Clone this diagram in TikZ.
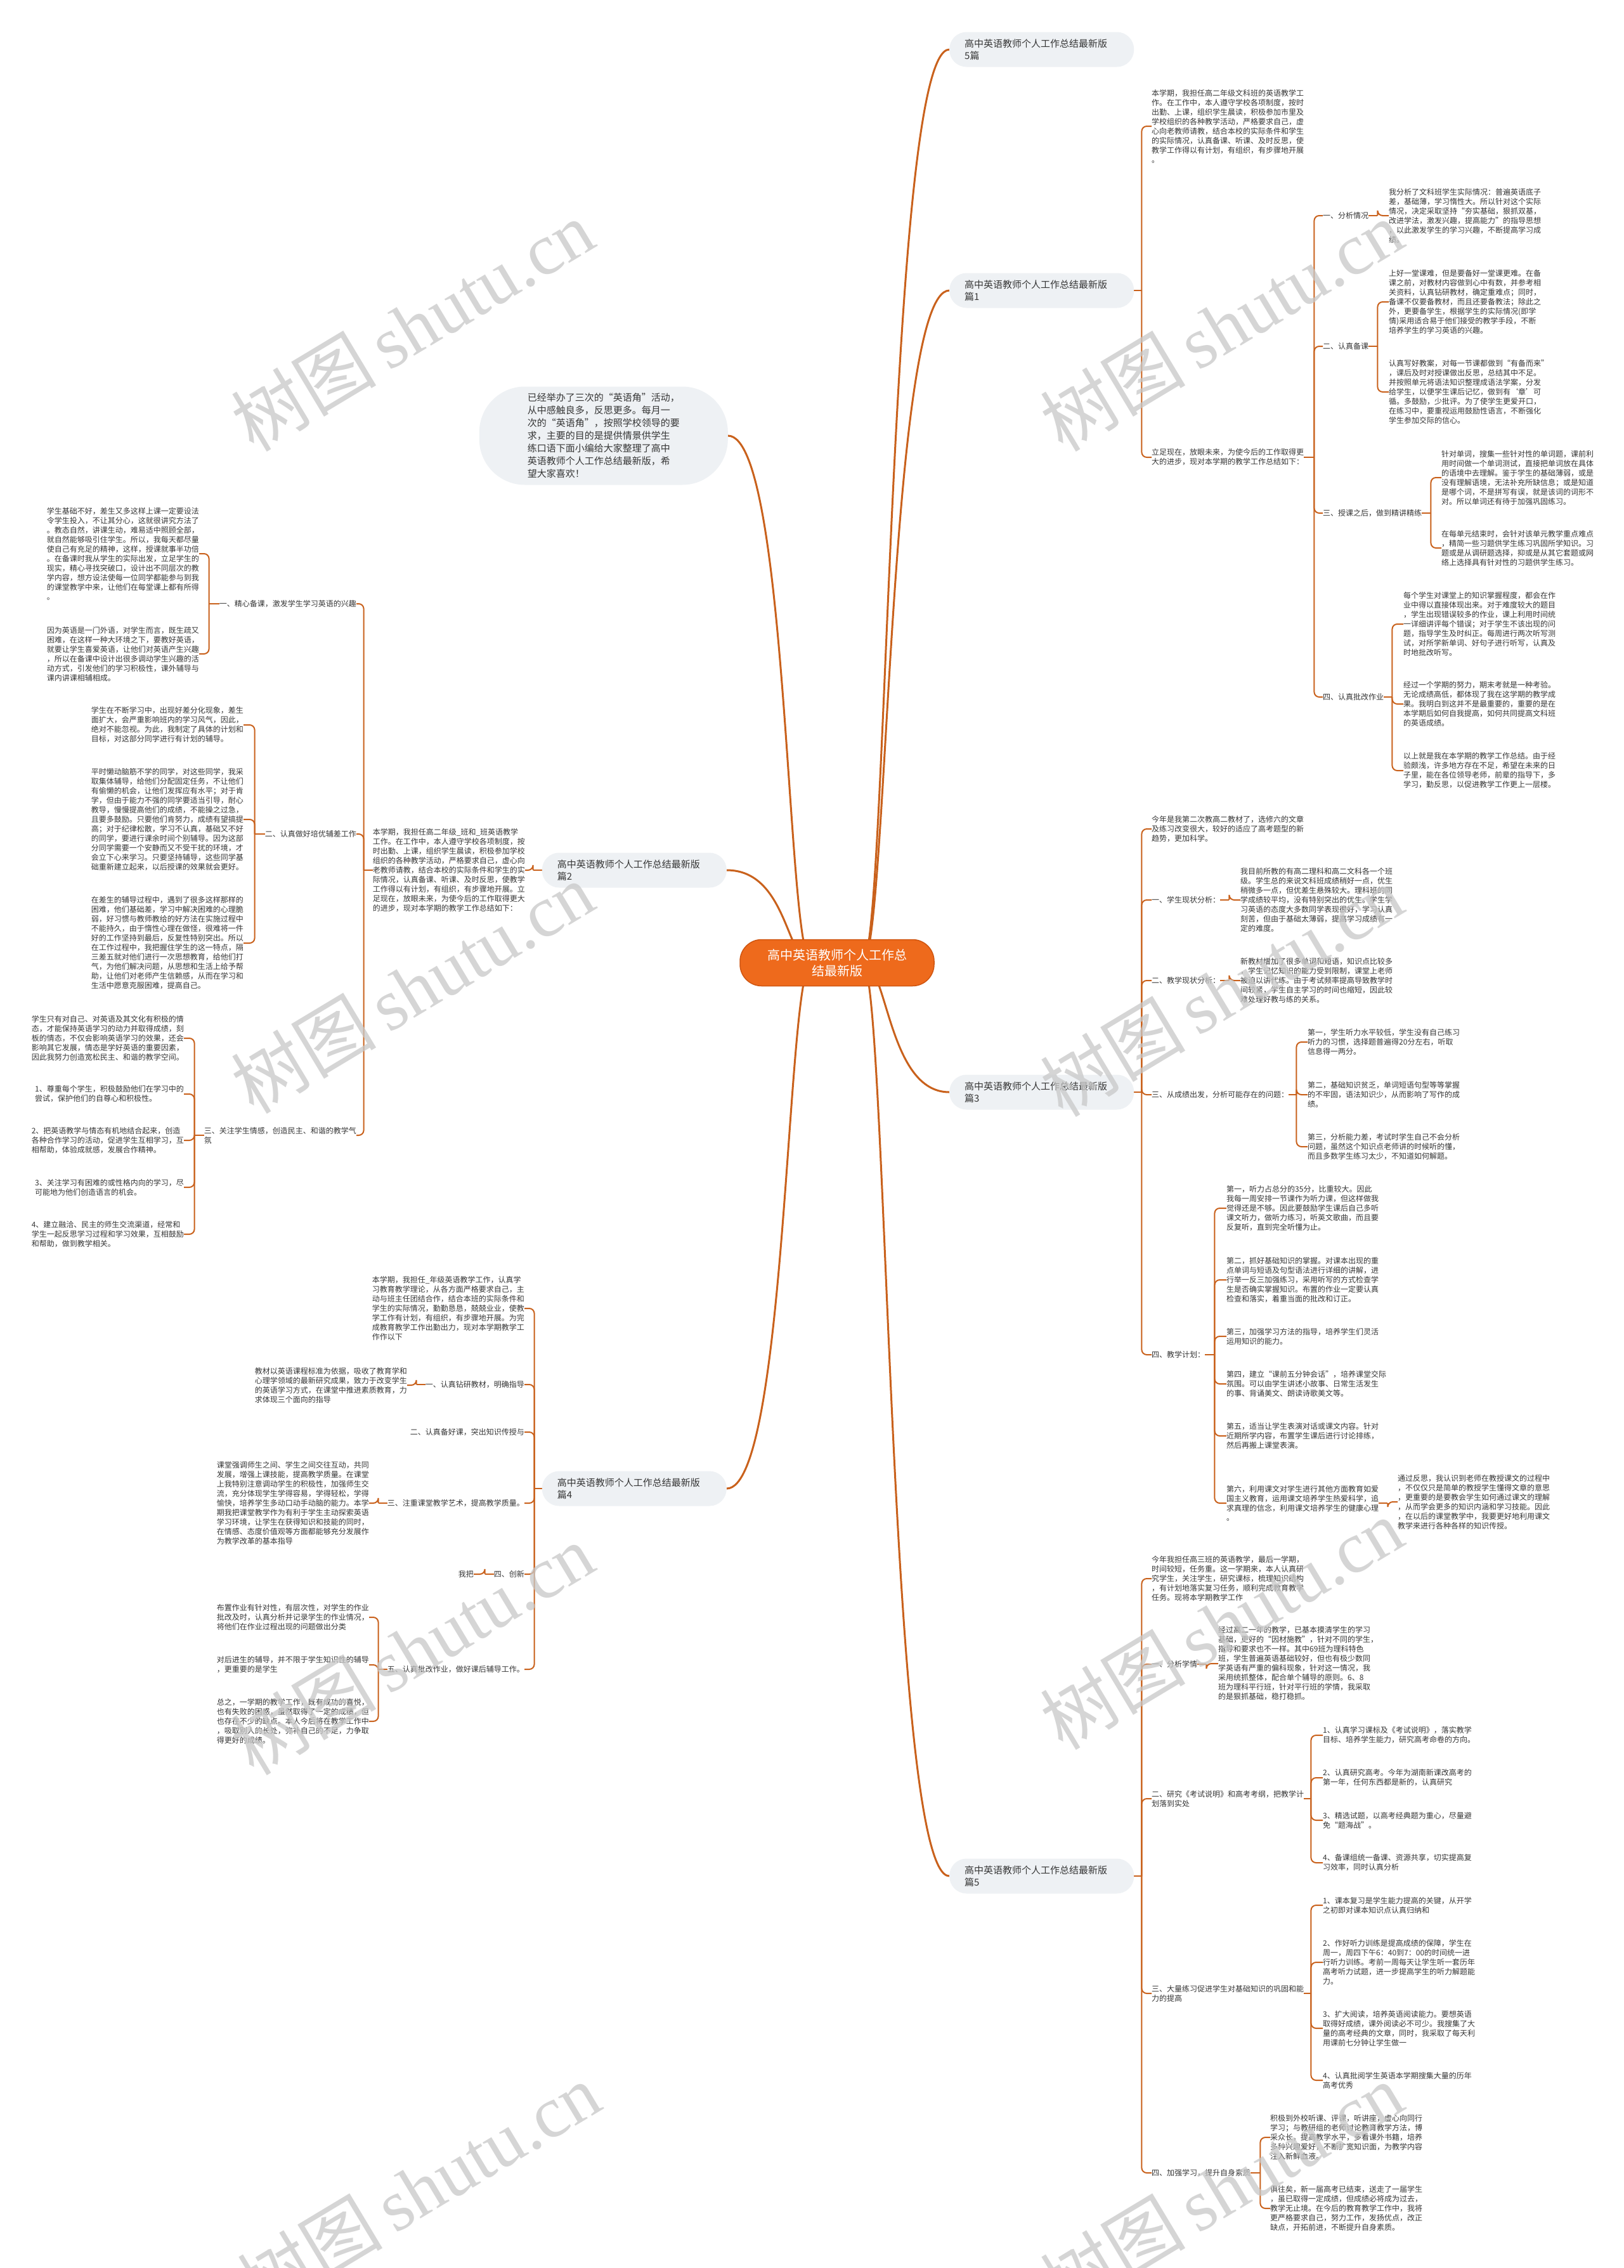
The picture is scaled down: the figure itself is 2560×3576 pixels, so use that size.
\documentclass[tikz,border=0pt]{standalone}
\usepackage{fontspec}
\setmainfont{Noto Sans CJK SC}
\newfontfamily\wmfont{Liberation Serif}
\usetikzlibrary{backgrounds}
\definecolor{linkbrown}{HTML}{C9611C}
\definecolor{rootorange}{HTML}{EE6A1C}
\definecolor{rootedge}{HTML}{CF5510}
\definecolor{boxgray}{HTML}{EEF1F4}
\definecolor{inkgray}{HTML}{363636}
\definecolor{wmgray}{HTML}{C8C8C8}

\begin{document}
\begin{tikzpicture}[
    x=1pt, y=-1pt,
    root/.style={draw=rootedge, fill=rootorange, line width=1.5pt, rounded corners=34pt,
                 minimum width=306pt, minimum height=73pt, align=center, text=white,
                 font=\fontsize{20}{25}\selectfont},
    branch/.style={fill=boxgray, rounded corners=27pt, minimum height=55pt,
                   text width=243pt, inner xsep=24pt, align=left, text=inkgray,
                   font=\fontsize{15}{19}\selectfont},
    note/.style={fill=boxgray, rounded corners=72pt, minimum height=155pt,
                 text width=240pt, inner xsep=76pt, align=left, text=inkgray,
                 font=\fontsize{15}{20}\selectfont},
    txt/.style={inner sep=0pt, align=left, text=inkgray, font=\fontsize{12}{15}\selectfont},
    rleaf/.style={txt, anchor=west},
    lleaf/.style={txt, anchor=east},
    twig/.style={draw=linkbrown, line width=2pt, rounded corners=8pt},
    trunk/.style={draw=linkbrown, line width=3pt},
    wm/.style={text=wmgray, text opacity=0.75, rotate=31, font=\fontsize{115}{120}\selectfont}
  ]
    \useasboundingbox (0,0) rectangle (2560,3576);

    % centre
    \node[root] (root) at (1320,1518) {高中英语教师个人工作总\\结最新版};

    % ---- right side ----
    \node[branch, anchor=west] (intro) at (1497,78) {高中英语教师个人工作总结最新版\\5篇};

    \node[branch, anchor=west] (p1) at (1497,458) {高中英语教师个人工作总结最新版\\篇1};
    \node[rleaf] (p1a) at (1816,199) {本学期，我担任高二年级文科班的英语教学工\\作。在工作中，本人遵守学校各项制度，按时\\出勤、上课，组织学生晨读，积极参加市里及\\学校组织的各种教学活动，严格要求自己，虚\\心向老教师请教，结合本校的实际条件和学生\\的实际情况，认真备课、听课、及时反思，使\\教学工作得以有计划，有组织，有步骤地开展\\。};
    \node[rleaf] (p1s) at (1816,721) {立足现在，放眼未来，为使今后的工作取得更\\大的进步，现对本学期的教学工作总结如下：};
    \node[rleaf] (k1) at (2086,340) {一、分析情况};
    \node[rleaf] (k1a) at (2190,340) {我分析了文科班学生实际情况：普遍英语底子\\差，基础薄，学习惰性大。所以针对这个实际\\情况，决定采取坚持“夯实基础，狠抓双基，\\改进学法，激发兴趣，提高能力”的指导思想\\，以此激发学生的学习兴趣，不断提高学习成\\绩。};
    \node[rleaf] (k2) at (2086,546) {二、认真备课};
    \node[rleaf] (k2a) at (2190,476) {上好一堂课难，但是要备好一堂课更难。在备\\课之前，对教材内容做到心中有数，并参考相\\关资料，认真钻研教材，确定重难点；同时，\\备课不仅要备教材，而且还要备教法；除此之\\外，更要备学生，根据学生的实际情况(即学\\情)采用适合易于他们接受的教学手段，不断\\培养学生的学习英语的兴趣。};
    \node[rleaf] (k2b) at (2190,618) {认真写好教案，对每一节课都做到“有备而来”\\，课后及时对授课做出反思，总结其中不足。\\并按照单元将语法知识整理成语法学案，分发\\给学生，以便学生课后记忆，做到有‘章’可\\循。多鼓励，少批评。为了使学生更爱开口，\\在练习中，要重视运用鼓励性语言，不断强化\\学生参加交际的信心。};
    \node[rleaf] (k3) at (2086,809) {三、授课之后，做到精讲精练};
    \node[rleaf] (k3a) at (2273,753) {针对单词，搜集一些针对性的单词题，课前利\\用时间做一个单词测试，直接把单词放在具体\\的语境中去理解。鉴于学生的基础薄弱，或是\\没有理解语境，无法补充所缺信息；或是知道\\是哪个词，不是拼写有误，就是该词的词形不\\对。所以单词还有待于加强巩固练习。};
    \node[rleaf] (k3b) at (2273,864) {在每单元结束时，会针对该单元教学重点难点\\，精简一些习题供学生练习巩固所学知识。习\\题或是从调研题选择，抑或是从其它套题或网\\络上选择具有针对性的习题供学生练习。};
    \node[rleaf] (k4) at (2086,1099) {四、认真批改作业};
    \node[rleaf] (k4a) at (2213,984) {每个学生对课堂上的知识掌握程度，都会在作\\业中得以直接体现出来。对于难度较大的题目\\，学生出现错误较多的作业，课上利用时间统\\一详细讲评每个错误；对于学生不该出现的问\\题，指导学生及时纠正。每周进行两次听写测\\试，对所学新单词、好句子进行听写，认真及\\时地批改听写。};
    \node[rleaf] (k4b) at (2213,1110) {经过一个学期的努力，期末考就是一种考验。\\无论成绩高低，都体现了我在这学期的教学成\\果。我明白到这并不是最重要的，重要的是在\\本学期后如何自我提高，如何共同提高文科班\\的英语成绩。};
    \node[rleaf] (k4c) at (2213,1215) {以上就是我在本学期的教学工作总结。由于经\\验颇浅，许多地方存在不足，希望在未来的日\\子里，能在各位领导老师，前辈的指导下，多\\学习，勤反思，以促进教学工作更上一层楼。};

    \node[branch, anchor=west] (p3) at (1497,1722) {高中英语教师个人工作总结最新版\\篇3};
    \node[rleaf] (p3a) at (1816,1307) {今年是我第二次教高二教材了，选修六的文章\\及练习改变很大，较好的适应了高考题型的新\\趋势，更加科学。};
    \node[rleaf] (m1) at (1816,1419) {一、学生现状分析：};
    \node[rleaf] (m1a) at (1956,1419) {我目前所教的有高二理科和高二文科各一个班\\级。学生总的来说文科班成绩稍好一点，优生\\稍微多一点，但优差生悬殊较大。理科班的同\\学成绩较平均，没有特别突出的优生。学生学\\习英语的态度大多数同学表现很好，学习认真\\刻苦，但由于基础太薄弱，提高学习成绩有一\\定的难度。};
    \node[rleaf] (m2) at (1816,1546) {二、教学现状分析：};
    \node[rleaf] (m2a) at (1956,1546) {新教材增加了很多单词和短语，知识点比较多\\，学生记忆知识的能力受到限制，课堂上老师\\被迫以讲代练。由于考试频率提高导致教学时\\间较紧，学生自主学习的时间也缩短，因此较\\难处理好教与练的关系。};
    \node[rleaf] (m3) at (1816,1726) {三、从成绩出发，分析可能存在的问题：};
    \node[rleaf] (m3a) at (2062,1643) {第一，学生听力水平较低，学生没有自己练习\\听力的习惯，选择题普遍得20分左右，听取\\信息得一两分。};
    \node[rleaf] (m3b) at (2062,1726) {第二，基础知识贫乏，单词短语句型等等掌握\\的不牢固，语法知识少，从而影响了写作的成\\绩。};
    \node[rleaf] (m3c) at (2062,1808) {第三，分析能力差，考试时学生自己不会分析\\问题，虽然这个知识点老师讲的时候听的懂，\\而且多数学生练习太少，不知道如何解题。};
    \node[rleaf] (m4) at (1816,2136) {四、教学计划：};
    \node[rleaf] (m4a) at (1934,1905) {第一，听力占总分的35分，比重较大。因此\\我每一周安排一节课作为听力课，但这样做我\\觉得还是不够。因此要鼓励学生课后自己多听\\课文听力，做听力练习，听英文歌曲，而且要\\反复听，直到完全听懂为止。};
    \node[rleaf] (m4b) at (1934,2018) {第二，抓好基础知识的掌握。对课本出现的重\\点单词与短语及句型语法进行详细的讲解，进\\行举一反三加强练习，采用听写的方式检查学\\生是否确实掌握知识。布置的作业一定要认真\\检查和落实，着重当面的批改和订正。};
    \node[rleaf] (m4c) at (1934,2107) {第三，加强学习方法的指导，培养学生们灵活\\运用知识的能力。};
    \node[rleaf] (m4d) at (1934,2182) {第四，建立“课前五分钟会话”，培养课堂交际\\氛围。可以由学生讲述小故事、日常生活发生\\的事、背诵美文、朗读诗歌美文等。};
    \node[rleaf] (m4e) at (1934,2264) {第五，适当让学生表演对话或课文内容。针对\\近期所学内容，布置学生课后进行讨论排练，\\然后再搬上课堂表演。};
    \node[rleaf] (m4f) at (1934,2370) {第六，利用课文对学生进行其他方面教育如爱\\国主义教育，运用课文培养学生热爱科学，追\\求真理的信念，利用课文培养学生的健康心理\\。};
    \node[rleaf] (m4g) at (2204,2368) {通过反思，我认识到老师在教授课文的过程中\\，不仅仅只是简单的教授学生懂得文章的意思\\，更重要的是要教会学生如何通过课文的理解\\，从而学会更多的知识内涵和学习技能。因此\\，在以后的课堂教学中，我要更好地利用课文\\教学来进行各种各样的知识传授。};

    \node[branch, anchor=west] (p5) at (1497,2958) {高中英语教师个人工作总结最新版\\篇5};
    \node[rleaf] (p5a) at (1816,2489) {今年我担任高三班的英语教学，最后一学期，\\时间较短，任务重。这一学期来，本人认真研\\究学生，关注学生，研究课标，梳理知识结构\\，有计划地落实复习任务，顺利完成教育教学\\任务。现将本学期教学工作};
    \node[rleaf] (n1) at (1816,2624) {一、分析学情};
    \node[rleaf] (n1a) at (1921,2623) {经过高二一年的教学，已基本摸清学生的学习\\基础，更好的“因材施教”，针对不同的学生，\\指导和要求也不一样。其中69班为理科特色\\班，学生普遍英语基础较好，但也有极少数同\\学英语有严重的偏科现象，针对这一情况，我\\采用统抓整体，配合单个辅导的原则。6、8\\班为理科平行班，针对平行班的学情，我采取\\的是狠抓基础，稳打稳抓。};
    \node[rleaf] (n2) at (1816,2836) {二、研究《考试说明》和高考考纲，把教学计\\划落到实处};
    \node[rleaf] (n2a) at (2086,2736) {1、认真学习课标及《考试说明》，落实教学\\目标、培养学生能力，研究高考命卷的方向。};
    \node[rleaf] (n2b) at (2086,2803) {2、认真研究高考。今年为湖南新课改高考的\\第一年，任何东西都是新的，认真研究};
    \node[rleaf] (n2c) at (2086,2870) {3、精选试题，以高考经典题为重心，尽量避\\免“题海战”。};
    \node[rleaf] (n2d) at (2086,2937) {4、备课组统一备课、资源共享，切实提高复\\习效率，同时认真分析};
    \node[rleaf] (n3) at (1816,3143) {三、大量练习促进学生对基础知识的巩固和能\\力的提高};
    \node[rleaf] (n3a) at (2086,3004) {1、课本复习是学生能力提高的关键，从开学\\之初即对课本知识点认真归纳和};
    \node[rleaf] (n3b) at (2086,3094) {2、作好听力训练是提高成绩的保障，学生在\\周一，周四下午6：40到7：00的时间统一进\\行听力训练。考前一周每天让学生听一套历年\\高考听力试题，进一步提高学生的听力解题能\\力。};
    \node[rleaf] (n3c) at (2086,3198) {3、扩大阅读，培养英语阅读能力。要想英语\\取得好成绩，课外阅读必不可少。我搜集了大\\量的高考经典的文章，同时，我采取了每天利\\用课前七分钟让学生做一};
    \node[rleaf] (n3d) at (2086,3280) {4、认真批阅学生英语本学期搜集大量的历年\\高考优秀};
    \node[rleaf] (n4) at (1816,3426) {四、加强学习，提升自身素质};
    \node[rleaf] (n4a) at (2003,3370) {积极到外校听课、评课，听讲座，虚心向同行\\学习；与教研组的老师讨论教育教学方法，博\\采众长，提高教学水平，多看课外书籍，培养\\多种兴趣爱好，不断扩宽知识面，为教学内容\\注入新鲜血液。};
    \node[rleaf] (n4b) at (2003,3482) {俱往矣，新一届高考已结束，送走了一届学生\\，虽已取得一定成绩，但成绩必将成为过去，\\教学无止境。在今后的教育教学工作中，我将\\更严格要求自己，努力工作，发扬优点，改正\\缺点，开拓前进，不断提升自身素质。};

    % ---- left side ----
    \node[note, anchor=east] (bubble) at (1148,687) {已经举办了三次的“英语角”活动，\\从中感触良多，反思更多。每月一\\次的“英语角”，按照学校领导的要\\求，主要的目的是提供情景供学生\\练口语下面小编给大家整理了高中\\英语教师个人工作总结最新版，希\\望大家喜欢！};

    \node[branch, anchor=east] (p2) at (1146,1372) {高中英语教师个人工作总结最新版\\篇2};
    \node[lleaf] (p2a) at (828,1372) {本学期，我担任高二年级\_班和\_班英语教学\\工作。在工作中，本人遵守学校各项制度，按\\时出勤、上课，组织学生晨读，积极参加学校\\组织的各种教学活动，严格要求自己，虚心向\\老教师请教，结合本校的实际条件和学生的实\\际情况，认真备课、听课、及时反思，使教学\\工作得以有计划，有组织，有步骤地开展。立\\足现在，放眼未来，为使今后的工作取得更大\\的进步，现对本学期的教学工作总结如下：};
    \node[lleaf] (q1) at (562,952) {一、精心备课，激发学生学习英语的兴趣};
    \node[lleaf] (q1a) at (314,873) {学生基础不好，差生又多这样上课一定要设法\\令学生投入，不让其分心，这就很讲究方法了\\。教态自然，讲课生动，难易适中照顾全部，\\就自然能够吸引住学生。所以，我每天都尽量\\使自己有充足的精神，这样，授课就事半功倍\\。在备课时我从学生的实际出发，立足学生的\\现实，精心寻找突破口，设计出不同层次的教\\学内容，想方设法使每一位同学都能参与到我\\的课堂教学中来，让他们在每堂课上都有所得\\。};
    \node[lleaf] (q1b) at (314,1031) {因为英语是一门外语，对学生而言，既生疏又\\困难，在这样一种大环境之下，要教好英语，\\就要让学生喜爱英语，让他们对英语产生兴趣\\，所以在备课中设计出很多调动学生兴趣的活\\动方式，引发他们的学习积极性，课外辅导与\\课内讲课相辅相成。};
    \node[lleaf] (q2) at (562,1315) {二、认真做好培优辅差工作};
    \node[lleaf] (q2a) at (384,1143) {学生在不断学习中，出现好差分化现象，差生\\面扩大，会严重影响班内的学习风气，因此，\\绝对不能忽视。为此，我制定了具体的计划和\\目标，对这部分同学进行有计划的辅导。};
    \node[lleaf] (q2b) at (384,1292) {平时懒动脑筋不学的同学，对这些同学，我采\\取集体辅导，给他们分配固定任务，不让他们\\有偷懒的机会，让他们发挥应有水平；对于肯\\学，但由于能力不强的同学要适当引导，耐心\\教导，慢慢提高他们的成绩，不能操之过急，\\且要多鼓励。只要他们肯努力，成绩有望搞提\\高；对于纪律松散，学习不认真，基础又不好\\的同学，要进行课余时间个别辅导。因为这部\\分同学需要一个安静而又不受干扰的环境，才\\会立下心来学习。只要坚持辅导，这些同学基\\础重新建立起来，以后授课的效果就会更好。};
    \node[lleaf] (q2c) at (384,1487) {在差生的辅导过程中，遇到了很多这样那样的\\困难，他们基础差，学习中解决困难的心理脆\\弱，好习惯与教师教给的好方法在实施过程中\\不能持久，由于惰性心理在做怪，很难将一件\\好的工作坚持到最后，反复性特别突出。所以\\在工作过程中，我把握住学生的这一特点，隔\\三差五就对他们进行一次思想教育，给他们打\\气，为他们解决问题，从思想和生活上给予帮\\助，让他们对老师产生信赖感，从而在学习和\\生活中愿意克服困难，提高自己。};
    \node[lleaf] (q3) at (562,1790) {三、关注学生情感，创造民主、和谐的教学气\\氛};
    \node[lleaf] (q3a) at (290,1637) {学生只有对自己、对英语及其文化有积极的情\\态，才能保持英语学习的动力并取得成绩，刻\\板的情态，不仅会影响英语学习的效果，还会\\影响其它发展，情态是学好英语的重要因素，\\因此我努力创造宽松民主、和谐的教学空间。};
    \node[lleaf] (q3b) at (290,1725) {1、尊重每个学生，积极鼓励他们在学习中的\\尝试，保护他们的自尊心和积极性。};
    \node[lleaf] (q3c) at (290,1798) {2、把英语教学与情态有机地结合起来，创造\\各种合作学习的活动，促进学生互相学习，互\\相帮助，体验成就感，发展合作精神。};
    \node[lleaf] (q3d) at (290,1872) {3、关注学习有困难的或性格内向的学习，尽\\可能地为他们创造语言的机会。};
    \node[lleaf] (q3e) at (290,1946) {4、建立融洽、民主的师生交流渠道，经常和\\学生一起反思学习过程和学习效果，互相鼓励\\和帮助，做到教学相关。};

    \node[branch, anchor=east] (p4) at (1146,2347) {高中英语教师个人工作总结最新版\\篇4};
    \node[lleaf] (r0) at (827,2063) {本学期，我担任\_年级英语教学工作，认真学\\习教育教学理论，从各方面严格要求自己，主\\动与班主任团结合作，结合本班的实际条件和\\学生的实际情况，勤勤恳恳，兢兢业业，使教\\学工作有计划，有组织，有步骤地开展。为完\\成教育教学工作出勤出力，现对本学期教学工\\作作以下};
    \node[lleaf] (r1) at (827,2183) {一、认真钻研教材，明确指导};
    \node[lleaf] (r1a) at (642,2184) {教材以英语课程标准为依据，吸收了教育学和\\心理学领域的最新研究成果，致力于改变学生\\的英语学习方式，在课堂中推进素质教育，力\\求体现三个面向的指导};
    \node[lleaf] (r2) at (827,2258) {二、认真备好课，突出知识传授与};
    \node[lleaf] (r3) at (827,2370) {三、注重课堂教学艺术，提高教学质量。};
    \node[lleaf] (r3a) at (582,2370) {课堂强调师生之间、学生之间交往互动，共同\\发展，增强上课技能，提高教学质量。在课堂\\上我特别注意调动学生的积极性，加强师生交\\流，充分体现学生学得容易，学得轻松，学得\\愉快，培养学生多动口动手动脑的能力。本学\\期我把课堂教学作为有利于学生主动探索英语\\学习环境，让学生在获得知识和技能的同时，\\在情感、态度价值观等方面都能够充分发展作\\为教学改革的基本指导};
    \node[lleaf] (r4) at (827,2482) {四、创新};
    \node[lleaf] (r4a) at (747,2482) {我把};
    \node[lleaf] (r5) at (827,2632) {五、认真批改作业，做好课后辅导工作。};
    \node[lleaf] (r5a) at (582,2550) {布置作业有针对性，有层次性，对学生的作业\\批改及时，认真分析并记录学生的作业情况，\\将他们在作业过程出现的问题做出分类};
    \node[lleaf] (r5b) at (582,2625) {对后进生的辅导，并不限于学生知识性的辅导\\，更重要的是学生};
    \node[lleaf] (r5c) at (582,2714) {总之，一学期的教学工作，既有成功的喜悦，\\也有失败的困惑，虽然取得了一定的成绩，但\\也存在不少的缺点。本人今后将在教学工作中\\，吸取别人的长处，弥补自己的不足，力争取\\得更好的成绩。};

    \begin{scope}[on background layer]
      \fill[white] (0,0) rectangle (2560,3576);
      % trunks from the centre
      \foreach \b in {intro,p1,p3,p5}
        \draw[trunk] ([xshift=40pt]root.center) .. controls +(40,0) and +(-97,0) .. (\b.west);
      \foreach \b in {bubble,p2,p4}
        \draw[trunk] ([xshift=-40pt]root.center) .. controls +(-40,0) and +(96,0) .. (\b.east);
      % right forks
      \foreach \p/\g/\kids in {p1/12/{p1a,p1s}, p1s/16/{k1,k2,k3,k4}, k1/14/{k1a},
          k2/14/{k2a,k2b}, k3/14/{k3a,k3b}, k4/13/{k4a,k4b,k4c},
          p3/12/{p3a,m1,m2,m3,m4}, m1/14/{m1a}, m2/14/{m2a}, m3/12/{m3a,m3b,m3c},
          m4/15/{m4a,m4b,m4c,m4d,m4e,m4f}, m4f/14/{m4g},
          p5/12/{p5a,n1,n2,n3,n4}, n1/14/{n1a}, n2/11/{n2a,n2b,n2c,n2d},
          n3/11/{n3a,n3b,n3c,n3d}, n4/15/{n4a,n4b}} {
        \draw[twig] (\p.east) -- ++(\g,0) coordinate (j);
        \foreach \c in \kids \draw[twig] (j) |- (\c.west);
      }
      % left forks
      \foreach \p/\g/\kids in {p2/14/{p2a}, p2a/14/{q1,q2,q3}, q1/16/{q1a,q1b},
          q2/16/{q2a,q2b,q2c}, q3/15/{q3a,q3b,q3c,q3d,q3e},
          p4/12/{r0,r1,r2,r3,r4,r5}, r1/14/{r1a}, r3/14/{r3a}, r4/14/{r4a},
          r5/14/{r5a,r5b,r5c}} {
        \draw[twig] (\p.west) -- ++(-\g,0) coordinate (j);
        \foreach \c in \kids \draw[twig] (j) |- (\c.east);
      }
    \end{scope}

    % watermarks
    \foreach \wx/\wy [count=\i] in {650/513, 1926/513, 650/1557, 1926/1562,
                                    650/2600, 1926/2560, 660/3450, 1926/3450}
      \node[wm] (wm\i) at (\wx,\wy) {树图\,{\wmfont shutu.cn}};
\end{tikzpicture}
\end{document}
